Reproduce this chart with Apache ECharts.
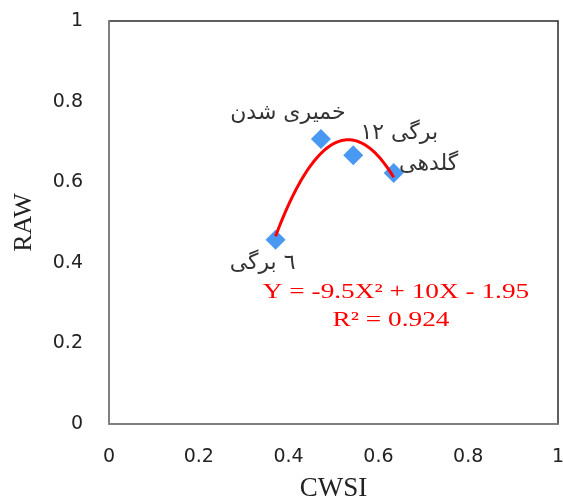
<!DOCTYPE html>
<html>
<head>
<meta charset="utf-8">
<script src="https://cdn.jsdelivr.net/npm/echarts@6/dist/echarts.min.js"></script>
<style>html,body{margin:0;padding:0;background:#fff}#c{width:563px;height:503px}</style>
</head>
<body>
<div id="c"></div>
<script>
// ---- data ----
const stageNames = ['٦ برگی', 'خمیری شدن', '۱۲ برگی', 'گلدهی'];
const cwsiValues = [0.371, 0.472, 0.544, 0.634];
const rawValues  = [0.457, 0.707, 0.667, 0.623];
const xTicks = [0, 0.2, 0.4, 0.6, 0.8, 1];
const yTicks = [0, 0.2, 0.4, 0.6, 0.8, 1];
const equationText = 'Y = -9.5X² + 10X - 1.95';
const r2Text = 'R² = 0.924';

// label placement (style, not data)
const labelOffsets = [[-13, 23], [-33, -26], [46, -22], [35, -9]];

// least-squares quadratic fit of the points (trendline)
function polyFit2(xs, ys) {
  let n = xs.length, s = [0,0,0,0,0], t = [0,0,0];
  for (let i = 0; i < n; i++) {
    let p = 1;
    for (let k = 0; k < 5; k++) { s[k] += p; p *= xs[i]; }
    p = 1;
    for (let k = 0; k < 3; k++) { t[k] += ys[i] * p; p *= xs[i]; }
  }
  const A = [[s[0], s[1], s[2], t[0]], [s[1], s[2], s[3], t[1]], [s[2], s[3], s[4], t[2]]];
  for (let i = 0; i < 3; i++) {
    for (let j = i + 1; j < 3; j++) {
      const f = A[j][i] / A[i][i];
      for (let k = i; k < 4; k++) A[j][k] -= f * A[i][k];
    }
  }
  const c = [0, 0, 0];
  for (let i = 2; i >= 0; i--) {
    let v = A[i][3];
    for (let k = i + 1; k < 3; k++) v -= A[i][k] * c[k];
    c[i] = v / A[i][i];
  }
  return c; // c0 + c1 x + c2 x^2
}
const coef = polyFit2(cwsiValues, rawValues);
const xMin = Math.min(...cwsiValues), xMax = Math.max(...cwsiValues);
const trend = [];
for (let i = 0; i <= 80; i++) {
  const x = xMin + (xMax - xMin) * i / 80;
  trend.push([x, coef[0] + coef[1] * x + coef[2] * x * x]);
}

const chart = echarts.init(document.getElementById('c'), null, {renderer: 'canvas'});
const tickFont = {fontFamily: 'DejaVu Sans', fontSize: 19, color: '#222'};
chart.setOption({
  animation: false,
  grid: {left: 109, top: 21, right: 5, bottom: 79, containLabel: false, outerBoundsMode: 'none',
    show: true, borderColor: '#2a2a2a', borderWidth: 1.5, backgroundColor: 'transparent'},
  xAxis: {
    type: 'value', min: 0, max: 1, interval: 0.2,
    name: 'CWSI', nameLocation: 'middle', nameGap: 51,
    nameTextStyle: {fontFamily: 'Liberation Serif', fontSize: 27, color: '#222'},
    axisLine: {show: true, lineStyle: {color: '#8c8c8c', width: 1.5}},
    axisTick: {show: false}, splitLine: {show: false},
    axisLabel: Object.assign({margin: 24, formatter: v => String(xTicks.find(t => Math.abs(t - v) < 1e-9) ?? v)}, tickFont)
  },
  yAxis: {
    type: 'value', min: 0, max: 1, interval: 0.2,
    name: 'RAW', nameLocation: 'middle', nameGap: 72, nameRotate: 90,
    nameTextStyle: {fontFamily: 'Liberation Serif', fontSize: 26, color: '#222'},
    axisLine: {show: true, lineStyle: {color: '#8c8c8c', width: 1.5}},
    axisTick: {show: false}, splitLine: {show: false},
    axisLabel: Object.assign({margin: 26, formatter: v => String(yTicks.find(t => Math.abs(t - v) < 1e-9) ?? v)}, tickFont)
  },
  series: [
    {
      type: 'scatter', symbol: 'diamond', symbolSize: 20, z: 2,
      itemStyle: {color: '#1c7ff0'},
      data: cwsiValues.map((x, i) => ({
        value: [x, rawValues[i]], name: stageNames[i],
        label: {show: true, position: 'inside', offset: labelOffsets[i], formatter: stageNames[i],
          fontFamily: 'DejaVu Sans', fontSize: 22, color: '#000'}
      }))
    },
    {
      type: 'line', data: trend, showSymbol: false, smooth: false, z: 3,
      lineStyle: {color: '#ff0000', width: 3}
    }
  ],
  graphic: [
    {type: 'text', x: 396, y: 292, scaleX: 1.3, style: {text: equationText, fill: '#ff0000', font: '21px "Liberation Serif"', align: 'center', verticalAlign: 'middle'}},
    {type: 'text', x: 391, y: 320, scaleX: 1.3, style: {text: r2Text, fill: '#ff0000', font: '21px "Liberation Serif"', align: 'center', verticalAlign: 'middle'}}
  ]
});
</script>
</body>
</html>
